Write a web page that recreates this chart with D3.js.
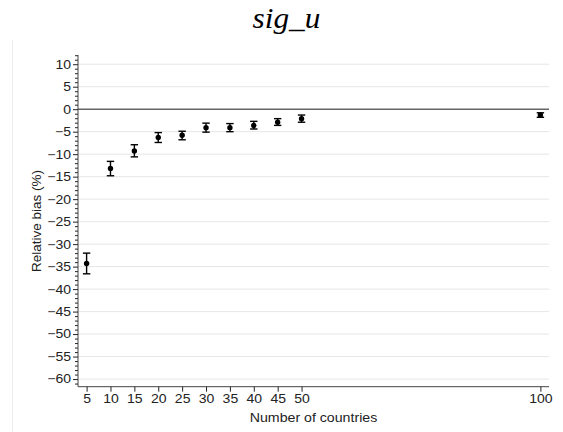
<!DOCTYPE html>
<html>
<head>
<meta charset="utf-8">
<script src="https://cdn.jsdelivr.net/npm/d3@7"></script>
<style>
  html, body { margin: 0; padding: 0; background: #fff; }
  svg { display: block; }
</style>
</head>
<body>
<svg id="chart" width="563" height="432"></svg>
<script>
// ---- data ----
const countries = [5, 10, 15, 20, 25, 30, 35, 40, 45, 50, 100];
const bias      = [-34.3, -13.2, -9.3, -6.3, -5.8, -4.1, -4.1, -3.6, -2.9, -2.1, -1.3];
const lower     = [-36.6, -14.8, -10.6, -7.4, -6.8, -5.1, -5.0, -4.4, -3.6, -2.9, -1.8];
const upper     = [-32.0, -11.6, -7.9, -5.2, -4.9, -3.1, -3.2, -2.7, -2.1, -1.3, -0.8];
const xTicks    = [5, 10, 15, 20, 25, 30, 35, 40, 45, 50, 100];
const yTicks    = [10, 5, 0, -5, -10, -15, -20, -25, -30, -35, -40, -45, -50, -55, -60];
const titleText = "sig_u";
const xTitle    = "Number of countries";
const yTitle    = "Relative bias (%)";

const svg = d3.select("#chart");
const L = 78, R = 549, T = 55, B = 386.7;
const x = d3.scaleLinear().domain([3.2, 101.8]).range([L, R]);
const y = d3.scaleLinear().domain([-61.7, 12.05]).range([B, T]);
const SX = 1.15;
const font = "'Liberation Sans', Arial, Helvetica, sans-serif";

// faint region border
svg.append("line").attr("x1", 12.5).attr("x2", 12.5).attr("y1", 40).attr("y2", 432)
  .attr("stroke", "#ececec").attr("stroke-width", 1);

// gridlines
svg.append("g").selectAll("line").data(yTicks.filter(d => d !== 0)).join("line")
  .attr("x1", L).attr("x2", R)
  .attr("y1", d => y(d)).attr("y2", d => y(d))
  .attr("stroke", "#e6e6e6").attr("stroke-width", 1);

// zero line
svg.append("line").attr("x1", L).attr("x2", R).attr("y1", y(0)).attr("y2", y(0))
  .attr("stroke", "#666").attr("stroke-width", 1.6);

// y axis
const minorTicks = d3.range(-61, 13, 1).filter(v => !yTicks.includes(v));
const yMinor = svg.append("g").attr("transform", `translate(${L},0)`)
  .call(d3.axisLeft(y).tickValues(minorTicks).tickSize(3).tickFormat(""));
yMinor.select(".domain").remove();
yMinor.selectAll(".tick line").attr("stroke", "#222");

const yAxis = svg.append("g").attr("transform", `translate(${L},0)`)
  .call(d3.axisLeft(y).tickValues(yTicks).tickSize(5).tickPadding(2).tickSizeOuter(0));
yAxis.select(".domain").attr("stroke", "#444").attr("d", `M0,${T}V${B}`);
yAxis.selectAll(".tick line").attr("stroke", "#222");
yAxis.selectAll(".tick text")
  .attr("font-family", font).attr("font-size", 12.2).attr("fill", "#222")
  .attr("x", -7 / SX).attr("transform", `scale(${SX},1)`);

// x axis
const xAxis = svg.append("g").attr("transform", `translate(0,${B})`)
  .call(d3.axisBottom(x).tickValues(xTicks).tickSize(5).tickPadding(4).tickSizeOuter(0));
xAxis.select(".domain").attr("stroke", "#444").attr("d", `M${L},0H${R}`);
xAxis.selectAll(".tick line").attr("stroke", "#222");
xAxis.selectAll(".tick text")
  .attr("font-family", font).attr("font-size", 12.2).attr("fill", "#222")
  .attr("transform", `scale(${SX},1)`)
  .attr("x", 0);
// re-position x tick texts: since scale applies inside tick group, x=0 stays centered
xAxis.selectAll(".tick text").attr("y", 8).attr("dy", "0.71em");

// error bars
const pts = countries.map((c, i) => ({c, b: bias[i], lo: lower[i], hi: upper[i]}));
const gE = svg.append("g").attr("stroke", "#000").attr("stroke-width", 1.4);
gE.selectAll("line.v").data(pts).join("line").attr("class", "v")
  .attr("x1", d => x(d.c)).attr("x2", d => x(d.c))
  .attr("y1", d => y(d.lo)).attr("y2", d => y(d.hi));
gE.selectAll("line.t").data(pts).join("line").attr("class", "t")
  .attr("x1", d => x(d.c) - 3.7).attr("x2", d => x(d.c) + 3.7)
  .attr("y1", d => y(d.hi)).attr("y2", d => y(d.hi));
gE.selectAll("line.b").data(pts).join("line").attr("class", "b")
  .attr("x1", d => x(d.c) - 3.7).attr("x2", d => x(d.c) + 3.7)
  .attr("y1", d => y(d.lo)).attr("y2", d => y(d.lo));

// points
svg.append("g").selectAll("circle").data(pts).join("circle")
  .attr("cx", d => x(d.c)).attr("cy", d => y(d.b)).attr("r", 2.7).attr("fill", "#000");

// title
svg.append("text").attr("x", 286.5 / 1.08).attr("y", 28)
  .attr("transform", "scale(1.08,1)")
  .attr("text-anchor", "middle")
  .attr("font-family", "'Liberation Serif', 'Times New Roman', serif")
  .attr("font-style", "italic").attr("font-size", 29).attr("fill", "#000")
  .text(titleText);

// axis titles
svg.append("text").attr("x", 313.5 / 1.05).attr("y", 422)
  .attr("transform", "scale(1.05,1)")
  .attr("text-anchor", "middle").attr("font-family", font).attr("font-size", 13.5).attr("fill", "#222")
  .text(xTitle);

svg.append("text")
  .attr("transform", `translate(36.5,221) rotate(-90)`)
  .attr("text-anchor", "middle").attr("dy", "0.35em")
  .attr("font-family", font).attr("font-size", 13.5).attr("fill", "#222")
  .text(yTitle);
</script>
</body>
</html>
